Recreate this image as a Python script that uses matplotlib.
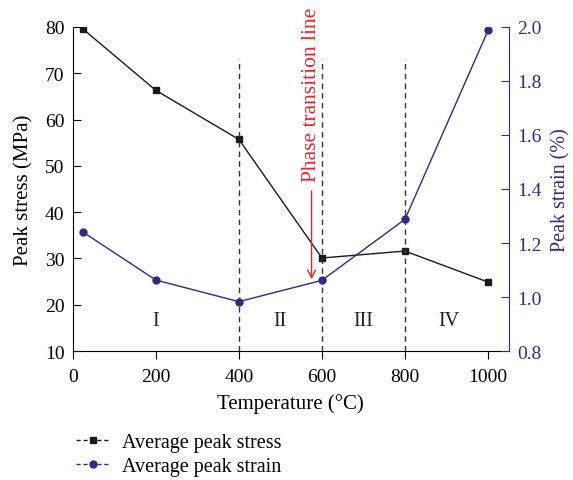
import matplotlib.pyplot as plt
from matplotlib.lines import Line2D

plt.rcParams['font.family'] = ['Liberation Serif', 'DejaVu Serif']

temp = [25, 200, 400, 600, 800, 1000]
stress = [79.5, 66.3, 55.7, 30.1, 31.6, 24.9]
strain = [1.24, 1.063, 0.983, 1.062, 1.288, 1.987]
boundaries = [400, 600, 800]
regions = ['I', 'II', 'III', 'IV']
region_x = [200, 500, 700, 905]

blue = '#2e2a86'
red = '#e8222f'

fig = plt.figure(figsize=(5.73, 4.81), dpi=100)
ax = fig.add_axes([0.127, 0.268, 0.761, 0.674])

ax.plot(temp, stress, color='#1a1a1a', lw=1.0, marker='s', ms=5)
for b in boundaries:
    ax.plot([b, b], [10, 73], color='#333333', lw=1.0, ls=(0, (4, 3)))
for r, xr in zip(regions, region_x):
    ax.text(xr, 16.6, r, ha='center', va='center', fontsize=14.5, color='#222222')

ax.annotate('', xy=(575, 24.9), xytext=(575, 45.2),
            arrowprops=dict(arrowstyle='->', color=red, lw=1.0, mutation_scale=14))
ax.text(575, 46.8, 'Phase transition line', rotation=90, ha='center', va='bottom',
        color=red, fontsize=15.5, clip_on=False)

ax.set_xlim(0, 1050)
ax.set_ylim(10, 80)
ax.set_xticks([0, 200, 400, 600, 800, 1000])
ax.set_yticks(range(10, 81, 10))
ax.set_xlabel('Temperature (°C)', fontsize=15, labelpad=6)
ax.set_ylabel('Peak stress (MPa)', fontsize=15, labelpad=8)
ax.tick_params(axis='y', direction='in', length=6, labelsize=14, pad=6)
ax.tick_params(axis='x', direction='out', length=6, labelsize=14, pad=6)
ax.spines['top'].set_visible(False)
ax.spines['right'].set_visible(False)

ax2 = ax.twinx()
ax2.plot(temp, strain, color=blue, lw=1.0, marker='o', ms=5)
ax2.set_ylim(0.8, 2.0)
ax2.set_yticks([0.8, 1.0, 1.2, 1.4, 1.6, 1.8, 2.0])
ax2.set_yticklabels(['0.8', '1.0', '1.2', '1.4', '1.6', '1.8', '2.0'])
ax2.set_ylabel('Peak strain (%)', fontsize=14.5, color=blue, labelpad=7)
ax2.tick_params(axis='y', direction='in', length=6, labelsize=14, colors=blue, pad=6)
ax2.spines['right'].set_color(blue)
ax2.spines['top'].set_visible(False)
ax2.spines['left'].set_visible(False)
ax2.spines['bottom'].set_visible(False)

handles = [
    Line2D([], [], color='#1a1a1a', lw=1.0, ls=(0, (3, 2)), marker='s', ms=5),
    Line2D([], [], color=blue, lw=1.0, ls=(0, (3, 2)), marker='o', ms=5),
]
fig.legend(handles, ['Average peak stress', 'Average peak strain'],
           loc='upper left', bbox_to_anchor=(0.118, 0.115), frameon=False,
           fontsize=14.5, handlelength=1.7, handletextpad=0.6, labelspacing=0.25,
           borderaxespad=0)

fig.savefig('out.png', dpi=100)
